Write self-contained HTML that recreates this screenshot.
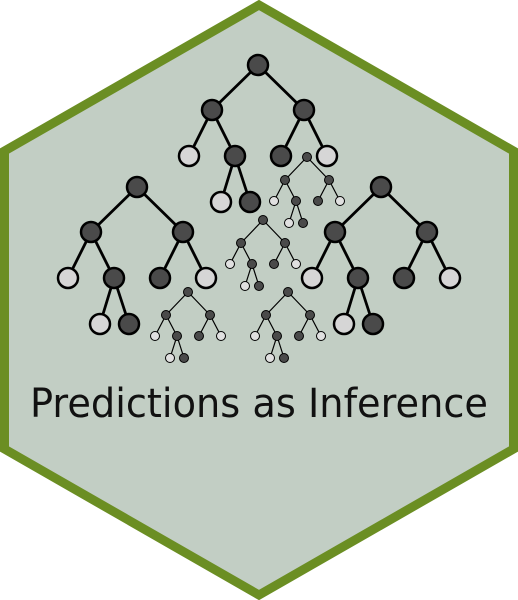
<!DOCTYPE html>
<html><head><style>html,body{margin:0;padding:0;background:#fff}svg{display:block}</style></head>
<body>
<svg width="518" height="600" viewBox="0 0 518 600" xmlns="http://www.w3.org/2000/svg">
<polygon points="259,5 513.5,151 513.5,449 259,595 4.5,449 4.5,151" fill="#c2cec4" stroke="#6b8e23" stroke-width="9"/>
<g stroke="#000" stroke-width="2.8" fill="none">
<path d="M258,65L212,110M258,65L304,110M212,110L189,156M212,110L235,156M304,110L281,156M304,110L327,156M235,156L221,202M235,156L250,202"/>
<path d="M137,187L91,232M137,187L183,232M91,232L68,278M91,232L114,278M183,232L160,278M183,232L206,278M114,278L100,324M114,278L129,324"/>
<path d="M381,187L335,232M381,187L427,232M335,232L312,278M335,232L358,278M427,232L404,278M427,232L450,278M358,278L344,324M358,278L373,324"/>
</g>
<g stroke="#000" stroke-width="1.2" fill="none">
<path d="M307,157L285,180M307,157L329,180M285,180L274,201M285,180L296,201M329,180L318,201M329,180L340,201M296,201L289,223M296,201L303,223"/>
<path d="M263,220L241,243M263,220L285,243M241,243L230,264M241,243L252,264M285,243L274,264M285,243L296,264M252,264L245,286M252,264L259,286"/>
<path d="M188,292L166,315M188,292L210,315M166,315L155,336M166,315L177,336M210,315L199,336M210,315L221,336M177,336L170,358M177,336L184,358"/>
<path d="M288,292L266,315M288,292L310,315M266,315L255,336M266,315L277,336M310,315L299,336M310,315L321,336M277,336L270,358M277,336L284,358"/>
</g>
<g stroke="#000" stroke-width="2.5">
<g fill="#4a4a4a">
<circle cx="258" cy="65" r="10"/><circle cx="212" cy="110" r="10"/><circle cx="304" cy="110" r="10"/><circle cx="235" cy="156" r="10"/><circle cx="281" cy="156" r="10"/><circle cx="250" cy="202" r="10"/>
<circle cx="137" cy="187" r="10"/><circle cx="91" cy="232" r="10"/><circle cx="183" cy="232" r="10"/><circle cx="114" cy="278" r="10"/><circle cx="160" cy="278" r="10"/><circle cx="129" cy="324" r="10"/>
<circle cx="381" cy="187" r="10"/><circle cx="335" cy="232" r="10"/><circle cx="427" cy="232" r="10"/><circle cx="358" cy="278" r="10"/><circle cx="404" cy="278" r="10"/><circle cx="373" cy="324" r="10"/>
</g>
<g fill="#d6d6d6">
<circle cx="189" cy="156" r="10"/><circle cx="327" cy="156" r="10"/><circle cx="221" cy="202" r="10"/>
<circle cx="68" cy="278" r="10"/><circle cx="206" cy="278" r="10"/><circle cx="100" cy="324" r="10"/>
<circle cx="312" cy="278" r="10"/><circle cx="450" cy="278" r="10"/><circle cx="344" cy="324" r="10"/>
</g>
</g>
<g stroke="#000" stroke-width="1">
<g fill="#4a4a4a">
<circle cx="307" cy="157" r="4.5"/><circle cx="285" cy="180" r="4.5"/><circle cx="329" cy="180" r="4.5"/><circle cx="296" cy="201" r="4.5"/><circle cx="318" cy="201" r="4.5"/><circle cx="303" cy="223" r="4.5"/>
<circle cx="263" cy="220" r="4.5"/><circle cx="241" cy="243" r="4.5"/><circle cx="285" cy="243" r="4.5"/><circle cx="252" cy="264" r="4.5"/><circle cx="274" cy="264" r="4.5"/><circle cx="259" cy="286" r="4.5"/>
<circle cx="188" cy="292" r="4.5"/><circle cx="166" cy="315" r="4.5"/><circle cx="210" cy="315" r="4.5"/><circle cx="177" cy="336" r="4.5"/><circle cx="199" cy="336" r="4.5"/><circle cx="184" cy="358" r="4.5"/>
<circle cx="288" cy="292" r="4.5"/><circle cx="266" cy="315" r="4.5"/><circle cx="310" cy="315" r="4.5"/><circle cx="277" cy="336" r="4.5"/><circle cx="299" cy="336" r="4.5"/><circle cx="284" cy="358" r="4.5"/>
</g>
<g fill="#e0e0e0">
<circle cx="274" cy="201" r="4.5"/><circle cx="340" cy="201" r="4.5"/><circle cx="289" cy="223" r="4.5"/>
<circle cx="230" cy="264" r="4.5"/><circle cx="296" cy="264" r="4.5"/><circle cx="245" cy="286" r="4.5"/>
<circle cx="155" cy="336" r="4.5"/><circle cx="221" cy="336" r="4.5"/><circle cx="170" cy="358" r="4.5"/>
<circle cx="255" cy="336" r="4.5"/><circle cx="321" cy="336" r="4.5"/><circle cx="270" cy="358" r="4.5"/>
</g>
</g>
<text x="30" y="417" font-family="'DejaVu Sans','Liberation Sans',sans-serif" font-size="40" fill="#111" textLength="458" lengthAdjust="spacingAndGlyphs">Predictions as Inference</text>
</svg>
</body></html>
